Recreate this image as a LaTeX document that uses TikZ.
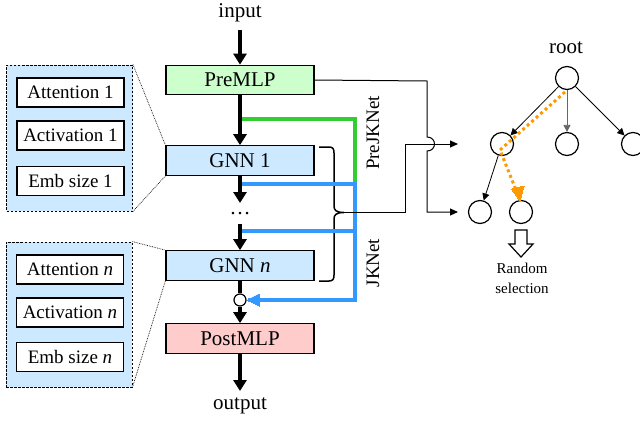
\documentclass[tikz,border=0pt]{standalone}
\usepackage{fontspec}
\setmainfont{Liberation Serif}
\usetikzlibrary{arrows.meta}
\definecolor{gfill}{HTML}{CCFFCC}
\definecolor{bfill}{HTML}{CCE9FF}
\definecolor{pfill}{HTML}{FFCCCC}
\definecolor{bline}{HTML}{3399FF}
\definecolor{gline}{HTML}{33CC33}
\definecolor{oline}{HTML}{FF9900}
\tikzset{
  mainbox/.style={draw, line width=1.2pt, minimum width=148pt, minimum height=29.5pt, inner sep=0pt, font=\fontsize{21}{24}\selectfont},
  subbox/.style={draw, fill=white, line width=1.2pt, minimum width=107pt, minimum height=29pt, inner sep=0pt, font=\fontsize{19}{22}\selectfont},
  panel/.style={draw, fill=bfill, line width=0.9pt, dash pattern=on 2.5pt off 1.5pt, minimum width=126pt, minimum height=146pt, inner sep=0pt},
  mainarrow/.style={line width=3.5pt, -{Triangle[length=11pt,width=13pt]}},
  thinarrow/.style={line width=0.8pt, -{Triangle[length=7pt,width=7pt]}},
  tnode/.style={draw, circle, line width=1.2pt, minimum size=23pt, inner sep=0pt},
  lbl/.style={font=\fontsize{21}{24}\selectfont, inner sep=0pt},
  jk/.style={font=\fontsize{19}{22}\selectfont, rotate=90, inner sep=0pt},
  colline/.style={line width=3.5pt},
}
\begin{document}
\begin{tikzpicture}[x=1pt,y=-1pt]
\useasboundingbox (0,0) rectangle (640,421);
% main column
\node[lbl] (in) at (240,13) {input};
\node[mainbox, fill=gfill] (pre) at (240,80) {PreMLP};
\node[mainbox, fill=bfill] (g1) at (240,160.5) {GNN 1};
\node[lbl] (dots) at (240,214) {\ldots};
\node[mainbox, fill=bfill] (gn) at (240,265.5) {GNN \textit{n}};
\node[draw, circle, line width=1.2pt, minimum size=12pt, inner sep=0pt] (cc) at (240,300) {};
\node[mainbox, fill=pfill] (post) at (240,338.5) {PostMLP};
\node[lbl] (out) at (240,406) {output};
\coordinate (a0) at (240,30);
\coordinate (d1) at (240,203);
\coordinate (d2) at (240,224);
\coordinate (a9) at (240,391);
% brace
\coordinate (bt) at (319,147);
\coordinate (bb) at (319,281);
\coordinate (tip) at (344,212.5);
\draw[line width=1.5pt] (bt) -- (329,147) .. controls (333,147) and (334,149) .. (334,153) -- (334,206) .. controls (334,210) and (336,212.5) .. (tip)
  .. controls (336,212.5) and (334,215) .. (334,219) -- (334,275) .. controls (334,279) and (333,281) .. (329,281) -- (bb);
% colored skip lines
\coordinate (gs) at (240,119);
\coordinate (gc) at (355,119);
\coordinate (b1) at (240,184);
\coordinate (bc) at (355,184);
\coordinate (b2) at (240,231);
\coordinate (bd) at (355,231);
\coordinate (be) at (355,300);
\draw[colline, gline] (gs) -- (gc) -- ([yshift=1pt]bc);
\draw[colline, bline] (b1) -- (bc) -- (be) -- ([xshift=1pt]cc.east);
\draw[colline, bline] (b2) -- (bd);
\draw[bline, line width=0pt, fill=bline] ([xshift=0.5pt]cc.east) -- ++(12,-6) -- ++(0,12) -- cycle;
% main arrows
\draw[mainarrow] (a0) -- (pre.north);
\draw[mainarrow] (pre.south) -- (g1.north);
\draw[mainarrow] (g1.south) -- (d1);
\draw[mainarrow] (d2) -- (gn.north);
\draw[line width=3.5pt] (gn.south) -- (cc.north);
\draw[mainarrow] (cc.south) -- (post.north);
\draw[mainarrow] (post.south) -- (a9);
% labels
\node[jk] (pj) at (373,133) {PreJKNet};
\node[jk] (jkn) at (373,263) {JKNet};
% connectors to tree
\coordinate (k1) at (405,212.5);
\coordinate (k2) at (405,144);
\coordinate (t1) at (458,144);
\draw[line width=1pt, -{Triangle[length=8pt,width=7pt]}] (tip) -- (k1) -- (k2) -- (t1);
\coordinate (m1) at (427,81);
\coordinate (m2) at (427,137);
\coordinate (m3) at (427,151);
\coordinate (m4) at (427,212);
\coordinate (t2) at (458,212);
\draw[line width=1pt, -{Triangle[length=8pt,width=7pt]}] (pre.east) -- (m1) -- (m2) .. controls (437,137) and (437,151) .. (m3) -- (m4) -- (t2);
% tree
\node[lbl] (rl) at (566,48) {root};
\node[tnode] (r) at (567,78) {};
\node[tnode] (c1) at (502,144) {};
\node[tnode] (c2) at (567,144) {};
\node[tnode] (c3) at (633,144) {};
\node[tnode] (q1) at (480,212) {};
\node[tnode] (q2) at (521,212) {};
\draw[thinarrow] (r) -- (c1);
\draw[thinarrow, black!60] (r) -- (c2);
\draw[thinarrow] (r) -- (c3);
\draw[thinarrow] (c1) -- (q1);
\coordinate (o1) at (565,92);
\coordinate (o2) at (500,150);
\coordinate (o3) at (516,190);
\draw[oline, line width=3pt, dash pattern=on 3pt off 3pt] (o1) -- (o2) -- (o3);
\draw[oline, line width=0pt, fill=oline] (520,201) -- (511.5,189) -- (524,186) -- cycle;
% hollow arrow
\draw[line width=1.2pt, fill=white] (515,230) -- (527,230) -- (527,244) -- (533,244) -- (521,257) -- (509,244) -- (515,244) -- cycle;
\node[font=\fontsize{15}{20}\selectfont, align=center, inner sep=0pt] (rs) at (522,278) {Random\\selection};
% left panels
\node[panel] (p1) at (69.5,138) {};
\node[subbox] (at1) at (70.5,92.5) {Attention 1};
\node[subbox] (ac1) at (70.5,135.5) {Activation 1};
\node[subbox] (em1) at (70.5,181) {Emb size 1};
\node[panel, minimum height=145pt] (p2) at (69,314.5) {};
\node[subbox] (at2) at (70,269.5) {Attention \textit{n}};
\node[subbox] (ac2) at (70,312.5) {Activation \textit{n}};
\node[subbox] (em2) at (70,357) {Emb size \textit{n}};
\draw[line width=0.7pt, densely dotted] (p1.north east) -- (g1.north west);
\draw[line width=0.7pt, densely dotted] (p1.south east) -- (g1.south west);
\draw[line width=0.7pt, densely dotted] (p2.north east) -- (gn.north west);
\draw[line width=0.7pt, densely dotted] (p2.south east) -- (gn.south west);
\end{tikzpicture}
\end{document}
